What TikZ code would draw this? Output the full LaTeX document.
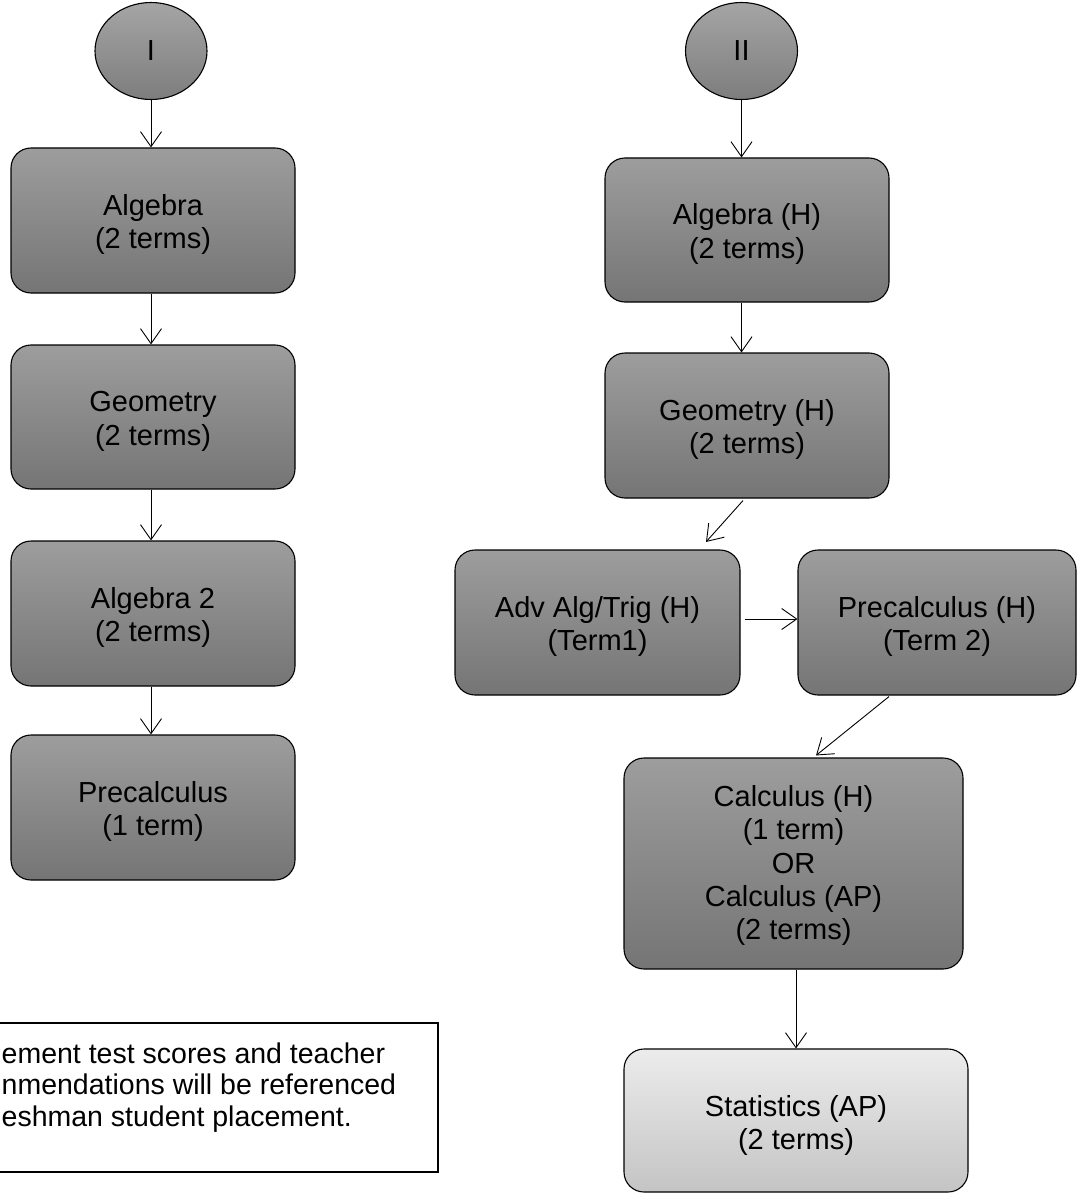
\documentclass[tikz,border=0pt]{standalone}
\usepackage{fontspec}
\setmainfont{Liberation Sans}
\usetikzlibrary{shapes.geometric,arrows.meta,calc}
\definecolor{boxtop}{RGB}{157,157,157}
\definecolor{boxbot}{RGB}{117,117,117}
\definecolor{elltop}{RGB}{165,165,165}
\definecolor{ellbot}{RGB}{125,125,125}
\definecolor{stattop}{RGB}{236,236,236}
\definecolor{statbot}{RGB}{196,196,196}
\newcommand{\topst}[1]{\rule{0pt}{#1}}
\tikzset{
  course/.style={draw=black, line width=1.1pt, rounded corners=20pt,
    top color=boxtop, bottom color=boxbot, align=center, inner sep=0pt,
    font=\fontsize{29}{33.3}\selectfont},
  light/.style={course, top color=stattop, bottom color=statbot},
  oval/.style={ellipse, draw=black, line width=1.1pt, top color=elltop,
    bottom color=ellbot, inner sep=0pt, minimum width=112pt, minimum height=97pt,
    font=\fontsize{29}{33.3}\selectfont},
  arr/.style={line width=0.9pt, -{Straight Barb[length=15pt,width=21pt,line width=0.9pt]}},
  note/.style={anchor=base west, inner sep=0pt, font=\fontsize{28.5}{31.5}\selectfont}
}
\begin{document}
\begin{tikzpicture}[x=1pt,y=-1pt]
\useasboundingbox (0,0) rectangle (1077,1193);
\fill[white] (0,0) rectangle (1077,1193);
% left column
\node[oval] (e1) at (151,51) {I};
\node[course, minimum width=284pt, minimum height=145pt] (alg) at (153,220.5) {\topst{29pt}Algebra\\(2 terms)};
\node[course, minimum width=284pt, minimum height=144pt] (geo) at (153,417) {\topst{29pt}Geometry\\(2 terms)};
\node[course, minimum width=284pt, minimum height=145pt] (alg2) at (153,613.5) {\topst{29pt}Algebra 2\\(2 terms)};
\node[course, minimum width=284pt, minimum height=145pt] (pre) at (153,807.5) {\topst{29pt}Precalculus\\(1 term)};
\draw[arr] (e1.south) -- (e1.south |- alg.north);
\draw[arr] (alg.south -| e1.south) -- (e1.south |- geo.north);
\draw[arr] (geo.south -| e1.south) -- (e1.south |- alg2.north);
\draw[arr] (alg2.south -| e1.south) -- (e1.south |- pre.north);
% right column
\node[oval] (e2) at (741.5,51) {II};
\node[course, minimum width=284pt, minimum height=144pt] (algh) at (747,230) {\topst{29pt}Algebra (H)\\(2 terms)};
\node[course, minimum width=284pt, minimum height=145pt] (geoh) at (747,425.5) {\topst{29pt}Geometry (H)\\(2 terms)};
\node[course, minimum width=285pt, minimum height=145pt] (adv) at (597.5,622.5) {\topst{29pt}Adv Alg/Trig (H)\\(Term1)};
\node[course, minimum width=278pt, minimum height=145pt] (prech) at (937,622.5) {\topst{29pt}Precalculus (H)\\(Term 2)};
\node[course, minimum width=339pt, minimum height=211pt] (calc) at (793.5,863.5) {\topst{25pt}Calculus (H)\\(1 term)\\OR\\Calculus (AP)\\(2 terms)};
\node[light, minimum width=344pt, minimum height=143pt] (stats) at (796,1120.5) {\topst{31pt}Statistics (AP)\\(2 terms)};
\draw[arr] (e2.south) -- (e2.south |- algh.north);
\draw[arr] (algh.south -| e2.south) -- (e2.south |- geoh.north);
\draw[arr] ($(geoh.south)+(-4,2)$) -- ($(adv.north)+(108.5,-7.5)$);
\draw[arr] ($(adv.east)+(4,-3.5)$) -- ($(prech.west)+(0,-3.5)$);
\draw[arr] ($(prech.south)+(-48,1)$) -- ($(calc.north)+(22.5,-2)$);
\draw[arr] (calc.south -| stats.north) -- (stats.north);
% note box (cut at the left edge)
\draw[line width=1.1pt] (0,1023) -- (438,1023) -- (438,1172) -- (0,1172);
\node[note] (n1) at (1.5,1063) {ement test scores and teacher};
\node[note] (n2) at (1.5,1094.5) {nmendations will be referenced};
\node[note] (n3) at (1.5,1126) {eshman student placement.};
\end{tikzpicture}
\end{document}
